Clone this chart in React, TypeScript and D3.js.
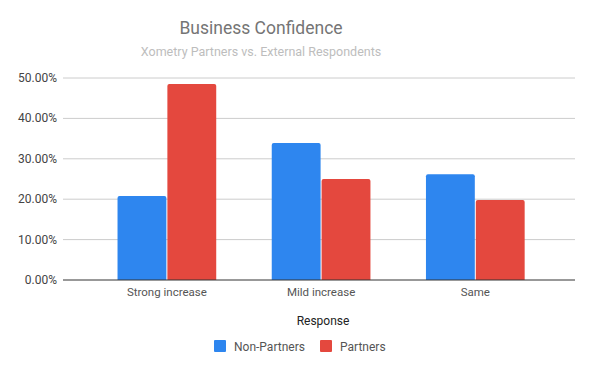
import React from "react";
import * as d3 from "d3";

// chart data
const categories = ["Strong increase", "Mild increase", "Same"];
const seriesNames = ["Non-Partners", "Partners"];
const nonPartners = [0.208, 0.339, 0.262];
const partners = [0.485, 0.25, 0.198];
const yTicks = [0, 0.1, 0.2, 0.3, 0.4, 0.5];
const colors = ["#2e86ef", "#e4483e"];

const width = 599;
const height = 370;

function topRounded(x: number, y: number, w: number, h: number, r: number) {
  r = Math.min(r, h);
  return `M${x},${y + h}V${y + r}Q${x},${y} ${x + r},${y}H${x + w - r}Q${x + w},${y} ${x + w},${y + r}V${y + h}Z`;
}

export default function App() {
  const x = d3
    .scaleBand<string>()
    .domain(categories)
    .range([63, 575])
    .paddingInner(0.36)
    .paddingOuter(0.34)
    .align(0.52);
  const inner = d3
    .scaleBand<string>()
    .domain(seriesNames)
    .range([0, x.bandwidth()])
    .paddingInner(0.02);
  const y = d3.scaleLinear().domain([0, 0.5]).range([280, 78]);
  const fmt = d3.format(".2%");
  const values = [nonPartners, partners];

  return (
    <svg
      width={width}
      height={height}
      style={{ position: "absolute", left: 0, top: 0, fontFamily: "Roboto, Arial, sans-serif" }}
    >
      <rect width={width} height={height} fill="#fff" />
      <text x={261} y={34} textAnchor="middle" fontSize={17.5} fill="#757575">
        Business Confidence
      </text>
      <text x={261} y={56} textAnchor="middle" fontSize={12.5} fill="#bdbdbd">
        Xometry Partners vs. External Respondents
      </text>

      {/* grid + y axis */}
      {yTicks.map((t) => (
        <g key={t}>
          {t > 0 && <line x1={63} x2={575} y1={y(t)} y2={y(t)} stroke="#cccccc" />}
          <text x={57} y={y(t) + 4} textAnchor="end" fontSize={12} fill="#444">
            {fmt(t)}
          </text>
        </g>
      ))}

      {/* bars */}
      {categories.map((c, i) =>
        seriesNames.map((s, j) => {
          const bx = (x(c) ?? 0) + (inner(s) ?? 0);
          const by = y(values[j][i]);
          return (
            <path
              key={c + s}
              d={topRounded(bx, by, inner.bandwidth(), y(0) - by, 2)}
              fill={colors[j]}
            />
          );
        })
      )}

      <line x1={63} x2={575} y1={y(0)} y2={y(0)} stroke="#333" />

      {categories.map((c) => (
        <text
          key={c}
          x={(x(c) ?? 0) + x.bandwidth() / 2}
          y={296}
          textAnchor="middle"
          fontSize={11.5}
          fill="#555"
        >
          {c}
        </text>
      ))}

      <text x={323} y={325} textAnchor="middle" fontSize={12} fill="#222">
        Response
      </text>

      {/* legend */}
      {seriesNames.map((s, j) => {
        const lx = j === 0 ? 214 : 320;
        return (
          <g key={s}>
            <rect x={lx} y={340} width={12} height={12} rx={1} fill={colors[j]} />
            <text x={lx + 20} y={350.5} fontSize={12} fill="#555">
              {s}
            </text>
          </g>
        );
      })}
    </svg>
  );
}
